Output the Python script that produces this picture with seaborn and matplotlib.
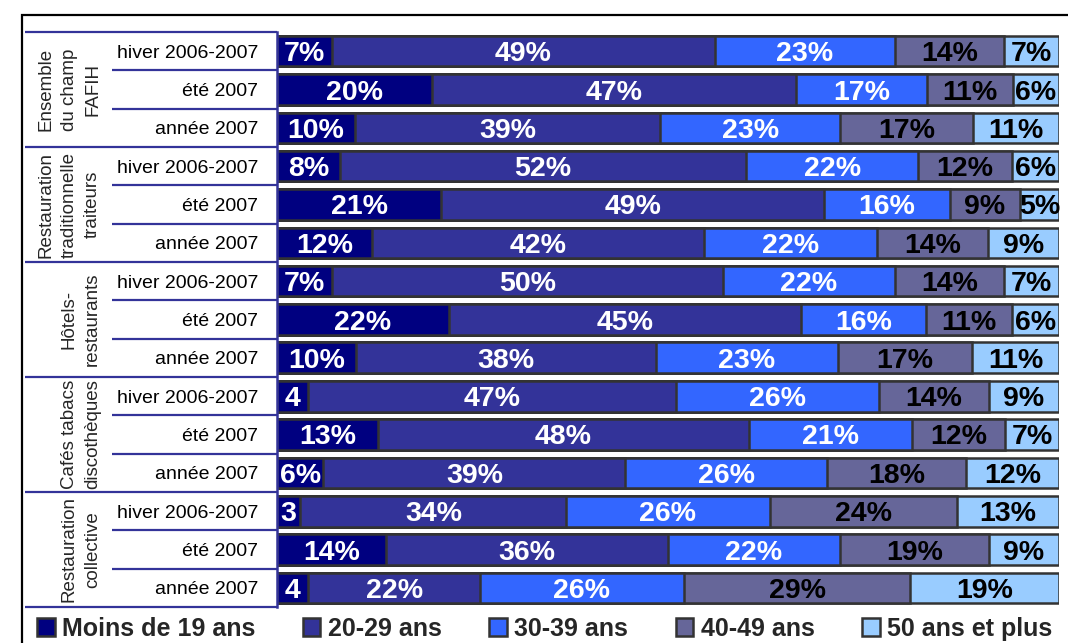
import matplotlib
matplotlib.use("Agg")
import matplotlib.pyplot as plt
import matplotlib.transforms as mtransforms
from matplotlib.patches import Patch, Rectangle
import numpy as np
import pandas as pd
import seaborn as sns

groups = [
    "Ensemble\ndu champ\nFAFIH",
    "Restauration\ntraditionnelle\ntraiteurs",
    "Hôtels-\nrestaurants",
    "Cafés tabacs\ndiscothèques",
    "Restauration\ncollective",
]
periods = ["hiver 2006-2007", "été 2007", "année 2007"]
age_classes = ["Moins de 19 ans", "20-29 ans", "30-39 ans", "40-49 ans", "50 ans et plus"]

under_19 = [7, 20, 10, 8, 21, 12, 7, 22, 10, 4, 13, 6, 3, 14, 4]
age_20_29 = [49, 47, 39, 52, 49, 42, 50, 45, 38, 47, 48, 39, 34, 36, 22]
age_30_39 = [23, 17, 23, 22, 16, 22, 22, 16, 23, 26, 21, 26, 26, 22, 26]
age_40_49 = [14, 11, 17, 12, 9, 14, 14, 11, 17, 14, 12, 18, 24, 19, 29]
age_50_plus = [7, 6, 11, 6, 5, 9, 7, 6, 11, 9, 7, 12, 13, 9, 19]

colors = ["#000080", "#333399", "#3366ff", "#666699", "#99ccff"]
label_colors = ["white", "white", "white", "black", "black"]
edge_color = "#333333"
line_color = "#333399"

sns.set_theme(style="white")
plt.rcParams["font.family"] = ["Liberation Sans", "DejaVu Sans"]

values = np.array([under_19, age_20_29, age_30_39, age_40_49, age_50_plus])
shares = values / values.sum(axis=0)
cum = shares.cumsum(axis=0)
rows = [f"r{i}" for i in range(values.shape[1])]

fig = plt.figure(figsize=(10.68, 6.43), dpi=100)
ax = fig.add_axes([277 / 1068, 1 - 607 / 643, 782 / 1068, 575 / 643])

# overlay cumulative bars, widest first, so they look stacked
for k in range(len(age_classes) - 1, -1, -1):
    df = pd.DataFrame({"row": rows, "cum": cum[k]})
    sns.barplot(data=df, x="cum", y="row", order=rows, orient="h", color=colors[k],
                saturation=1, width=0.8, edgecolor=edge_color, linewidth=1.8,
                errorbar=None, ax=ax)

for k in range(len(age_classes)):
    for i in range(len(rows)):
        v = values[k, i]
        text = f"{v}%" if v >= 5 else str(v)
        ax.text(cum[k, i] - shares[k, i] / 2, i, text, ha="center", va="center_baseline",
                color=label_colors[k], fontsize=20.5, fontweight="bold")

ax.set_xlim(0, 1)
ax.set_ylim(len(rows) - 0.5, -0.5)
ax.set_xticks([])
ax.set_yticks(range(len(rows)))
ax.set_yticklabels(periods * len(groups), fontsize=14, color="black")
ax.tick_params(axis="y", length=0, pad=13.5)
ax.set_xlabel("")
ax.set_ylabel("")
for side in ["top", "right", "bottom"]:
    ax.spines[side].set_visible(False)
ax.spines["left"].set_color(line_color)
ax.spines["left"].set_linewidth(1.8)

trans = mtransforms.blended_transform_factory(ax.transAxes, ax.transData)
for b in range(len(rows) + 1):
    x0 = -0.322 if b % 3 == 0 else -0.211
    ax.plot([x0, 0], [b - 0.5, b - 0.5], transform=trans, color=line_color,
            lw=1.6, clip_on=False, solid_capstyle="butt")

for g, name in enumerate(groups):
    ax.text(-0.225, 3 * g + 1, name, rotation=90, ha="right", va="center",
            multialignment="center", transform=trans, fontsize=13.5, linespacing=1.5)

handles = [Patch(facecolor=c, edgecolor=edge_color, linewidth=1.8) for c in colors]
fig.legend(handles, age_classes, loc="center", bbox_to_anchor=(0.51, 0.022), ncol=5,
           frameon=False, handlelength=0.7, handleheight=0.7, handletextpad=0.3,
           columnspacing=1.9, prop={"size": 18, "weight": "bold"})

fig.add_artist(Rectangle((22 / 1068, -0.2), 1.2, 0.2 + 1 - 15 / 643, transform=fig.transFigure,
                         fill=False, edgecolor="black", linewidth=1.6, clip_on=False))

fig.savefig("out.png", dpi=100)
